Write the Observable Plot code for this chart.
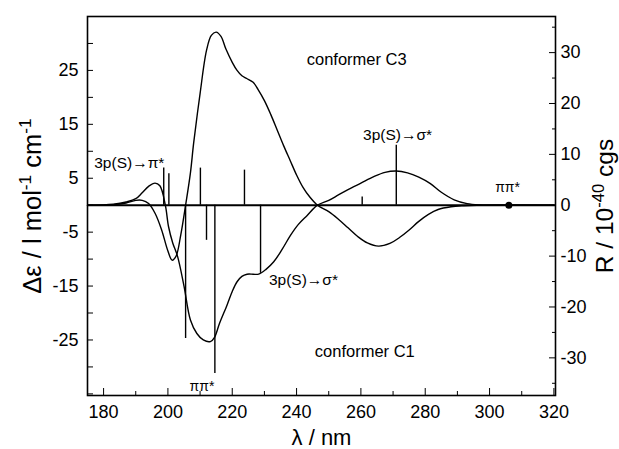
<!DOCTYPE html>
<html>
<head>
<meta charset="utf-8">
<script src="https://cdn.jsdelivr.net/npm/d3@7"></script>
<script src="https://cdn.jsdelivr.net/npm/@observablehq/plot@0.6"></script>
<style>
  html, body { margin: 0; padding: 0; background: #fff; }
</style>
</head>
<body>
<div id="chart"></div>
<script>
// ---- data ----
// conformer C3 CD curve: wavelength (nm), Δε
const c3Nm = [175,183,187,190,192,194,196,198,200,201.3,202.5,204,205.5,207,208,210,212,213.5,215,216.5,218,220,221.5,223,224.5,226.5,228,230,232,234,236,238,240,242,244,246.5,250,253,256,259,262,265.5,269,272,275,278,281,284,288,292,296,320];
const c3De = [0,0.1,0.4,0.9,0.9,0.3,-1.5,-4.5,-8.5,-10.2,-9.5,-5.5,0,6,11.5,20.7,28.7,31.5,32.1,31.3,29,26.5,25,24,23.5,22.8,21.5,19.4,16.8,13.9,11,8.3,5.6,3.3,1.6,0,-1.2,-2.6,-4.2,-5.8,-7.0,-7.6,-7.1,-6.0,-4.6,-3.0,-1.7,-0.8,-0.3,-0.1,0,0];
// conformer C1 CD curve
const c1Nm = [175,183,187,190,192,194,196,197.5,199.2,200.2,201.5,203,205,207,209,211,213.2,214.5,216,218.4,220,221.5,223,224.6,226.5,228.2,230.5,232.9,235.5,238.1,240.5,243.3,246.5,250,253,256,260,264,267.5,271,274.5,278,281.6,285,289,293,297,300,320];
const c1De = [0,0.2,0.6,1.2,2.3,3.5,4.1,3.6,0,-4,-7,-9.5,-15,-21.3,-23.8,-25,-25.3,-24.5,-22,-18.5,-16,-14.2,-13.2,-12.8,-12.8,-12.8,-11.9,-10.5,-8.2,-5.6,-3.6,-1.9,0,0.9,1.9,2.9,4.1,5.3,6.1,6.35,6.0,5.2,4.0,2.4,1.0,0.3,0.05,0,0];
// rotational strengths (sticks): wavelength (nm), R / 10^-40 cgs
const stickNm = [198.7,200.3,205.5,210.1,212.0,214.6,223.8,228.8,260.4,271.0];
const stickR  = [7.3,6.2,-26.2,7.3,-6.9,-33.1,6.9,-13.4,1.6,11.8];
// ππ* transition marker
const dotNm = [306];
const dotR = [0];
// tick values
const xTicks = [180,200,220,240,260,280,300,320];
const xMinor = [190,210,230,250,270,290,310];
const leftTicks = [-25,-15,-5,5,15,25];
const leftAll = [-35,-30,-25,-20,-15,-10,-5,0,5,10,15,20,25,30,35];
const rightTicks = [-30,-20,-10,0,10,20,30];
const rightMinor = [-35,-25,-15,-5,5,15,25,35];
// annotations: text, nm, Δε position
const annText = ["conformer C3","conformer C1","3p(S)\u2192\u03c3*","3p(S)\u2192\u03c3*","3p(S)\u2192\u03c0*","\u03c0\u03c0*","\u03c0\u03c0*"];
const annNm   = [258.7,261.2,231.4,271.4,188.0,210.6,305.6];
const annDe   = [27.0,-27.2,-13.9,13.0,7.8,-33.7,3.3];
const annSize = [16.5,16.5,15.5,15.5,15.5,14,14];
const annAnchor = ["middle","middle","start","middle","middle","middle","middle"];

// scales
const yDomain = [-35.3, 35];
const rDomain = [-37.4, 37.1];
const rToY = d3.scaleLinear().domain(rDomain).range(yDomain);

const c3 = c3Nm.map((x,i)=>({x, y:c3De[i]}));
const c1 = c1Nm.map((x,i)=>({x, y:c1De[i]}));
const sticks = stickNm.map((x,i)=>({x, r:stickR[i]}));
const dots = dotNm.map((x,i)=>({x, r:dotR[i]}));
const ann = annText.map((t,i)=>({t, x:annNm[i], y:annDe[i], s:annSize[i], a:annAnchor[i]}));

const blank = () => "";
const fmt = d => String(d);

const leftTitle = "\u0394\u03b5 / l mol-1 cm-1";
const rightTitle = "R / 10-40 cgs";

const chart = Plot.plot({
  width: 619,
  height: 449,
  marginLeft: 87,
  marginRight: 64,
  marginTop: 16,
  marginBottom: 54,
  style: {fontFamily: "Liberation Sans, Arial, sans-serif", background: "#fff", color: "#000"},
  x: {domain: [175, 320.5]},
  y: {domain: yDomain},
  marks: [
    Plot.frame({stroke: "#000", strokeWidth: 1.6}),
    Plot.ruleY([0], {stroke: "#000", strokeWidth: 2}),
    Plot.ruleX(sticks, {x: "x", y1: () => rToY(0), y2: d => rToY(d.r), stroke: "#000", strokeWidth: 1.4}),
    Plot.line(c3, {x: "x", y: "y", curve: "catmull-rom", stroke: "#000", strokeWidth: 1.4}),
    Plot.line(c1, {x: "x", y: "y", curve: "catmull-rom", stroke: "#000", strokeWidth: 1.4}),
    Plot.dot(dots, {x: "x", y: d => rToY(d.r), r: 3.5, fill: "#000"}),
    Plot.text(ann, {filter: d => d.a === "start", x: "x", y: "y", text: "t", fontSize: d => d.s, textAnchor: "start", fill: "#000"}),
    Plot.text(ann, {filter: d => d.a === "middle", x: "x", y: "y", text: "t", fontSize: d => d.s, textAnchor: "middle", fill: "#000"}),
    // x axis
    Plot.axisX(xTicks, {tickSize: 0, tickPadding: 10, fontSize: 18, label: null, tickFormat: fmt}),
    Plot.axisX(xTicks, {tickSize: 7, dy: -7, tickFormat: blank, label: null}),
    Plot.axisX(xMinor, {tickSize: 4, dy: -4, tickFormat: blank, label: null}),
    // left axis
    Plot.axisY(leftTicks, {anchor: "left", tickSize: 0, tickPadding: 9, fontSize: 18, label: null, tickFormat: fmt}),
    Plot.axisY(leftAll, {anchor: "left", tickSize: 6, dx: 6, tickFormat: blank, label: null}),
    // right axis
    Plot.axisY(rightTicks.map(rToY), {anchor: "right", tickSize: 7, dx: -7, label: null, tickFormat: blank}),
    Plot.axisY(rightMinor.map(rToY), {anchor: "right", tickSize: 4, dx: -4, tickFormat: blank, label: null}),
    Plot.axisY(rightTicks.map(rToY), {anchor: "right", tickSize: 0, tickPadding: 5, fontSize: 18, label: null, tickFormat: d => String(Math.round(rToY.invert(d)))}),
    // axis titles
    Plot.text([leftTitle], {frameAnchor: "left", dx: -55, rotate: -90, textAnchor: "middle", lineAnchor: "middle", fontSize: 25.5, fill: "#000"}),
    Plot.text([rightTitle], {frameAnchor: "right", dx: 50, rotate: -90, textAnchor: "middle", lineAnchor: "middle", fontSize: 24.5, fill: "#000"}),
    Plot.text(["\u03bb / nm"], {frameAnchor: "bottom", dy: 42, textAnchor: "middle", lineAnchor: "middle", fontSize: 22, fill: "#000"})
  ]
});

// render superscripts as real tspans
function superscript(svg, plain, parts) {
  d3.select(svg).selectAll("text").filter(function() { return this.textContent === plain; }).each(function() {
    const t = d3.select(this);
    t.text(null);
    parts.forEach(([s, sup]) => {
      const ts = t.append("tspan").text(s);
      if (sup) ts.attr("baseline-shift", "super").attr("font-size", "68%");
    });
  });
}
superscript(chart, leftTitle, [["\u0394\u03b5 / l mol", false], ["-1", true], [" cm", false], ["-1", true]]);
superscript(chart, rightTitle, [["R / 10", false], ["-40", true], [" cgs", false]]);

document.getElementById("chart").appendChild(chart);
</script>
</body>
</html>
